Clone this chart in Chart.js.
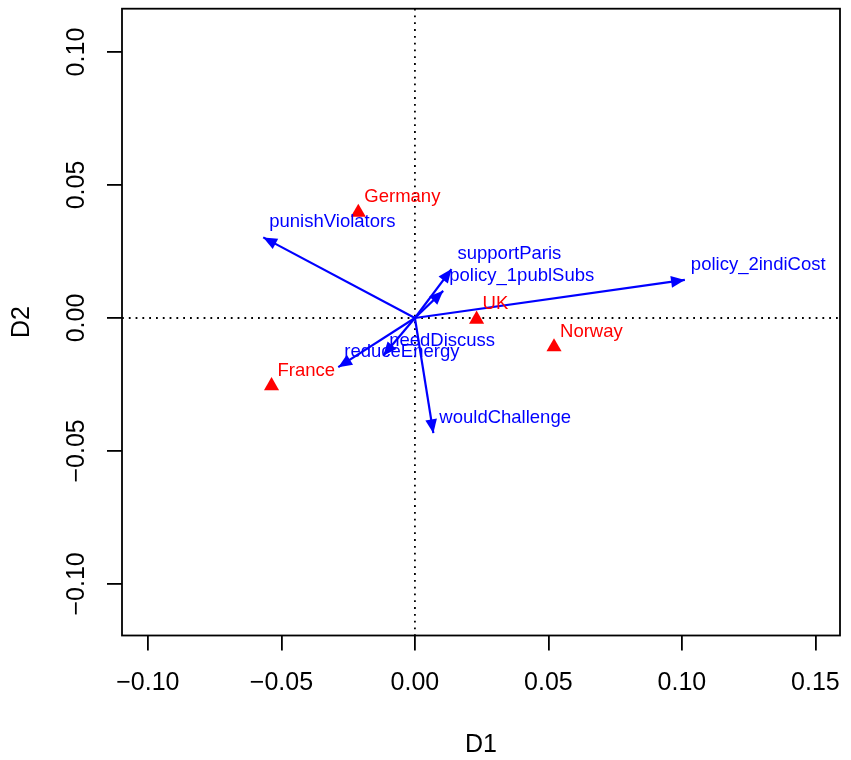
<!DOCTYPE html>
<html>
<head>
<meta charset="utf-8">
<script src="https://cdn.jsdelivr.net/npm/chart.js@4.4.1/dist/chart.umd.min.js"></script>
<style>body{margin:0;background:#fff}</style>
</head>
<body>
<canvas id="biplot" width="851" height="760"></canvas>
<script>
var countries = ['Germany', 'UK', 'Norway', 'France'];
var countryD1 = [-0.0212, 0.0231, 0.0521, -0.0537];
var countryD2 = [0.0397, -0.0005, -0.0109, -0.0255];

var variables = ['punishViolators', 'policy_2indiCost', 'supportParis', 'policy_1publSubs',
                 'wouldChallenge', 'reduceEnergy', 'needDiscuss'];
var variableD1 = [-0.0568, 0.1011, 0.0137, 0.0106, 0.0069, -0.0287, -0.0119];
var variableD2 = [0.0303, 0.0143, 0.0184, 0.0102, -0.0433, -0.0185, -0.0142];

var xTicks = [-0.10, -0.05, 0.00, 0.05, 0.10, 0.15];
var yTicks = [-0.10, -0.05, 0.00, 0.05, 0.10];

var FONT = '"Liberation Sans", Arial, Helvetica, sans-serif';

function fmt(v) {
  return (v < -1e-9 ? '\u2212' : '') + Math.abs(v).toFixed(2);
}

var datasets = [];
variables.forEach(function (name, i) {
  datasets.push({
    label: name,
    showLine: true,
    data: [{x: 0, y: 0}, {x: variableD1[i], y: variableD2[i]}],
    borderColor: 'blue',
    borderWidth: 2.2,
    pointRadius: 0
  });
});
datasets.push({
  label: 'countries',
  data: countries.map(function (c, i) { return {x: countryD1[i], y: countryD2[i]}; }),
  pointStyle: 'triangle',
  pointRadius: 8.7,
  backgroundColor: 'red',
  borderColor: 'red',
  borderWidth: 0
});

var biplotExtras = {
  id: 'biplotExtras',
  beforeDatasetsDraw: function (chart) {
    var ctx = chart.ctx, a = chart.chartArea, x = chart.scales.x, y = chart.scales.y;
    ctx.save();
    ctx.strokeStyle = '#000';
    ctx.lineWidth = 1.8;
    ctx.setLineDash([1.8, 5]);
    ctx.beginPath();
    ctx.moveTo(x.getPixelForValue(0), a.top);
    ctx.lineTo(x.getPixelForValue(0), a.bottom);
    ctx.moveTo(a.left, y.getPixelForValue(0));
    ctx.lineTo(a.right, y.getPixelForValue(0));
    ctx.stroke();
    ctx.restore();
  },
  afterDatasetsDraw: function (chart) {
    var ctx = chart.ctx, a = chart.chartArea, x = chart.scales.x, y = chart.scales.y;
    var ox = x.getPixelForValue(0), oy = y.getPixelForValue(0);
    ctx.save();

    // arrow heads
    ctx.fillStyle = 'blue';
    variables.forEach(function (name, i) {
      var tx = x.getPixelForValue(variableD1[i]), ty = y.getPixelForValue(variableD2[i]);
      var ang = Math.atan2(ty - oy, tx - ox), len = 15, half = 0.4;
      ctx.beginPath();
      ctx.moveTo(tx, ty);
      ctx.lineTo(tx - len * Math.cos(ang - half), ty - len * Math.sin(ang - half));
      ctx.lineTo(tx - len * Math.cos(ang + half), ty - len * Math.sin(ang + half));
      ctx.closePath();
      ctx.fill();
    });

    // text labels
    ctx.font = '18.5px ' + FONT;
    ctx.textAlign = 'left';
    ctx.textBaseline = 'middle';
    ctx.fillStyle = 'red';
    countries.forEach(function (c, i) {
      ctx.fillText(c, x.getPixelForValue(countryD1[i]) + 6, y.getPixelForValue(countryD2[i]) - 15);
    });
    ctx.fillStyle = 'blue';
    variables.forEach(function (v, i) {
      ctx.fillText(v, x.getPixelForValue(variableD1[i]) + 6, y.getPixelForValue(variableD2[i]) - 15);
    });

    // frame
    ctx.strokeStyle = '#000';
    ctx.lineWidth = 1.8;
    ctx.strokeRect(a.left, a.top, a.right - a.left, a.bottom - a.top);

    // y tick labels, rotated like R
    ctx.font = '25px ' + FONT;
    ctx.fillStyle = '#000';
    ctx.textAlign = 'center';
    yTicks.forEach(function (v) {
      ctx.save();
      ctx.translate(76.7, y.getPixelForValue(v));
      ctx.rotate(-Math.PI / 2);
      ctx.fillText(fmt(v), 0, 0);
      ctx.restore();
    });
    ctx.restore();
  }
};

new Chart(document.getElementById('biplot'), {
  type: 'scatter',
  data: {datasets: datasets},
  plugins: [biplotExtras],
  options: {
    responsive: false,
    animation: false,
    devicePixelRatio: 1,
    layout: {padding: {top: 7.5, right: 11, left: 0, bottom: 0}},
    plugins: {legend: {display: false}, tooltip: {enabled: false}},
    scales: {
      x: {
        type: 'linear',
        min: -0.1097,
        max: 0.1592,
        afterBuildTicks: function (scale) {
          scale.ticks = xTicks.map(function (v) { return {value: v}; });
        },
        afterFit: function (scale) {
          scale.height = 124.5;
          scale.paddingLeft = 0;
          scale.paddingRight = 0;
        },
        grid: {drawOnChartArea: false, drawTicks: true, tickLength: 15, color: '#000', lineWidth: 1.8},
        border: {display: false},
        ticks: {
          autoSkip: false,
          maxRotation: 0,
          padding: 18,
          color: '#000',
          font: {family: FONT, size: 25},
          callback: function (v) { return fmt(v); }
        },
        title: {display: true, text: 'D1', color: '#000', font: {family: FONT, size: 25}, padding: {top: 0, bottom: 0}}
      },
      y: {
        type: 'linear',
        min: -0.1194,
        max: 0.1163,
        afterBuildTicks: function (scale) {
          scale.ticks = yTicks.map(function (v) { return {value: v}; });
        },
        afterFit: function (scale) {
          scale.width = 122;
          scale.paddingTop = 0;
          scale.paddingBottom = 0;
        },
        grid: {drawOnChartArea: false, drawTicks: true, tickLength: 15, color: '#000', lineWidth: 1.8},
        border: {display: false},
        ticks: {display: false},
        title: {display: true, text: 'D2', color: '#000', font: {family: FONT, size: 25}, padding: {top: 6.7, bottom: 0}}
      }
    }
  }
});
</script>
</body>
</html>
